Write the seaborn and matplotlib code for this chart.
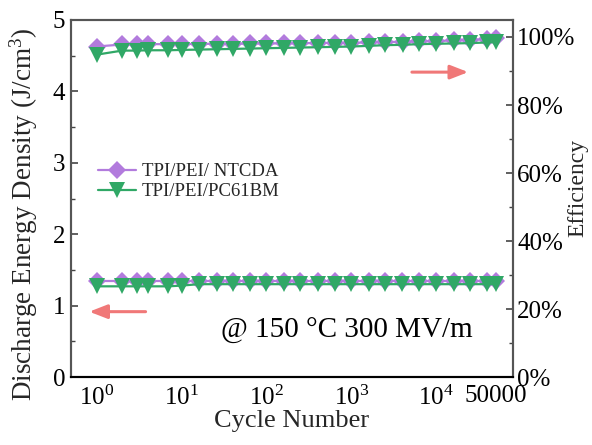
import numpy as np
import pandas as pd
import matplotlib
matplotlib.use("Agg")
import matplotlib.pyplot as plt
import seaborn as sns
from matplotlib.ticker import MultipleLocator, LogLocator, NullFormatter, FuncFormatter
from matplotlib.lines import Line2D

cycles = [1, 2, 3, 4, 7, 10, 16, 26, 40, 64, 100, 160, 250, 400, 640, 1000,
          1600, 2500, 4000, 6300, 10000, 16000, 25000, 40000, 50000]
energy_ntcda = [1.35, 1.35, 1.35, 1.35, 1.35, 1.35, 1.35, 1.35, 1.35, 1.35, 1.35, 1.35, 1.35,
                1.35, 1.35, 1.35, 1.35, 1.35, 1.35, 1.35, 1.35, 1.35, 1.35, 1.35, 1.35]
energy_pc61bm = [1.27, 1.27, 1.27, 1.27, 1.27, 1.28, 1.30, 1.30, 1.30, 1.30, 1.30, 1.30, 1.30,
                 1.30, 1.30, 1.30, 1.30, 1.30, 1.30, 1.30, 1.30, 1.30, 1.30, 1.30, 1.30]
eff_ntcda = [97.2, 97.8, 97.8, 97.9, 97.9, 97.9, 98.0, 98.0, 98.0, 98.1, 98.1, 98.1, 98.2,
             98.2, 98.3, 98.3, 98.4, 98.5, 98.6, 98.7, 98.8, 99.0, 99.1, 99.4, 99.6]
eff_pc61bm = [94.8, 96.0, 96.0, 96.1, 96.1, 96.2, 96.3, 96.4, 96.5, 96.6, 96.7, 96.8, 96.9,
              97.0, 97.1, 97.2, 97.4, 97.6, 97.7, 97.9, 98.0, 98.1, 98.2, 98.4, 98.5]
labels = ["TPI/PEI/ NTCDA", "TPI/PEI/PC61BM"]
x_ticks = [1, 10, 100, 1000, 10000, 50000]
x_ticklabels = [r"$10^{0}$", r"$10^{1}$", r"$10^{2}$", r"$10^{3}$", r"$10^{4}$", "50000"]

sns.set_theme(style="white")
plt.rcParams['font.family'] = ['Liberation Serif', 'DejaVu Serif']
plt.rcParams['mathtext.fontset'] = 'custom'
plt.rcParams['mathtext.rm'] = 'Liberation Serif'
plt.rcParams['mathtext.it'] = 'Liberation Serif:italic'

purple = "#B27BDD"
green = "#30A866"
arrow_c = "#F07878"

df = pd.DataFrame({
    "cycle": cycles * 2,
    "energy": energy_ntcda + energy_pc61bm,
    "eff": eff_ntcda + eff_pc61bm,
    "sample": [labels[0]] * len(cycles) + [labels[1]] * len(cycles),
})

fig = plt.figure(figsize=(5.92, 4.45), dpi=100)
ax = fig.add_axes([71/592, 1-377/445, (513-71)/592, (377-20)/445])
ax2 = ax.twinx()

pal = {labels[0]: purple, labels[1]: green}
mk = {labels[0]: "D", labels[1]: "v"}
msz = {labels[0]: 9, labels[1]: 11}
for lab in labels:
    sub = df[df["sample"] == lab]
    sns.lineplot(data=sub, x="cycle", y="energy", ax=ax, color=pal[lab], marker=mk[lab],
                 markersize=msz[lab], markeredgewidth=0, linewidth=1.6, legend=False)
    sns.lineplot(data=sub, x="cycle", y="eff", ax=ax2, color=pal[lab], marker=mk[lab],
                 markersize=msz[lab], markeredgewidth=0, linewidth=1.6, legend=False)

ax.set_xscale("log")
ax.set_xlim(0.5, 80000)
ax.set_ylim(0, 5)
ax2.set_ylim(0, 105)

ax.set_xticks(x_ticks)
ax.set_xticklabels(x_ticklabels)
ax.xaxis.set_minor_locator(LogLocator(base=10, subs=np.arange(2, 10), numticks=20))
ax.xaxis.set_minor_formatter(NullFormatter())
ax.yaxis.set_major_locator(MultipleLocator(1))
ax.yaxis.set_minor_locator(MultipleLocator(0.5))
ax2.yaxis.set_major_locator(MultipleLocator(20))
ax2.yaxis.set_minor_locator(MultipleLocator(10))
ax2.yaxis.set_major_formatter(FuncFormatter(lambda v, p: f"{int(v)}%"))

for a in (ax, ax2):
    a.tick_params(which="major", direction="in", length=5, width=1.2, labelsize=18, colors="#444444", labelcolor="black")
    a.tick_params(which="minor", direction="in", length=3, width=1.0, colors="#444444")
ax.tick_params(axis="x", which="both", colors="black", labelcolor="black", pad=6)
ax.tick_params(axis="y", pad=4)
ax2.tick_params(axis="y", pad=3)

for a in (ax, ax2):
    for s in a.spines.values():
        s.set_color("#555555")
        s.set_linewidth(1.5)
    a.spines["bottom"].set_color("black")

ax.set_xlabel("Cycle Number", fontsize=19, labelpad=0)
ax.set_ylabel("Discharge Energy Density (J/cm$^{3}$)", fontsize=19.5)
ax.yaxis.set_label_coords(-0.07, 0.455)
ax2.set_ylabel("Efficiency", fontsize=17)
ax2.yaxis.set_label_coords(1.122, 0.53)

handles = [Line2D([0], [0], color=purple, marker="D", markersize=9, markeredgewidth=0, linewidth=1.6),
           Line2D([0], [0], color=green, marker="v", markersize=11, markeredgewidth=0, linewidth=1.6)]
ax2.legend(handles, labels, loc="upper left", bbox_to_anchor=(0.045, 0.62), frameon=False,
           fontsize=13.5, handlelength=2.0, handletextpad=0.3, labelspacing=0.15, borderaxespad=0)

ax.annotate("", xy=(0.905, 0.854), xytext=(0.765, 0.854), xycoords="axes fraction",
            arrowprops=dict(arrowstyle="-|>,head_length=0.9,head_width=0.35", color=arrow_c, lw=2.2))
ax.annotate("", xy=(0.035, 0.183), xytext=(0.175, 0.183), xycoords="axes fraction",
            arrowprops=dict(arrowstyle="-|>,head_length=0.9,head_width=0.35", color=arrow_c, lw=2.2))

ax.text(0.34, 0.13, "@ 150 °C 300 MV/m", transform=ax.transAxes, fontsize=21,
        va="center", ha="left", color="black")

fig.savefig("out.png", dpi=100)
